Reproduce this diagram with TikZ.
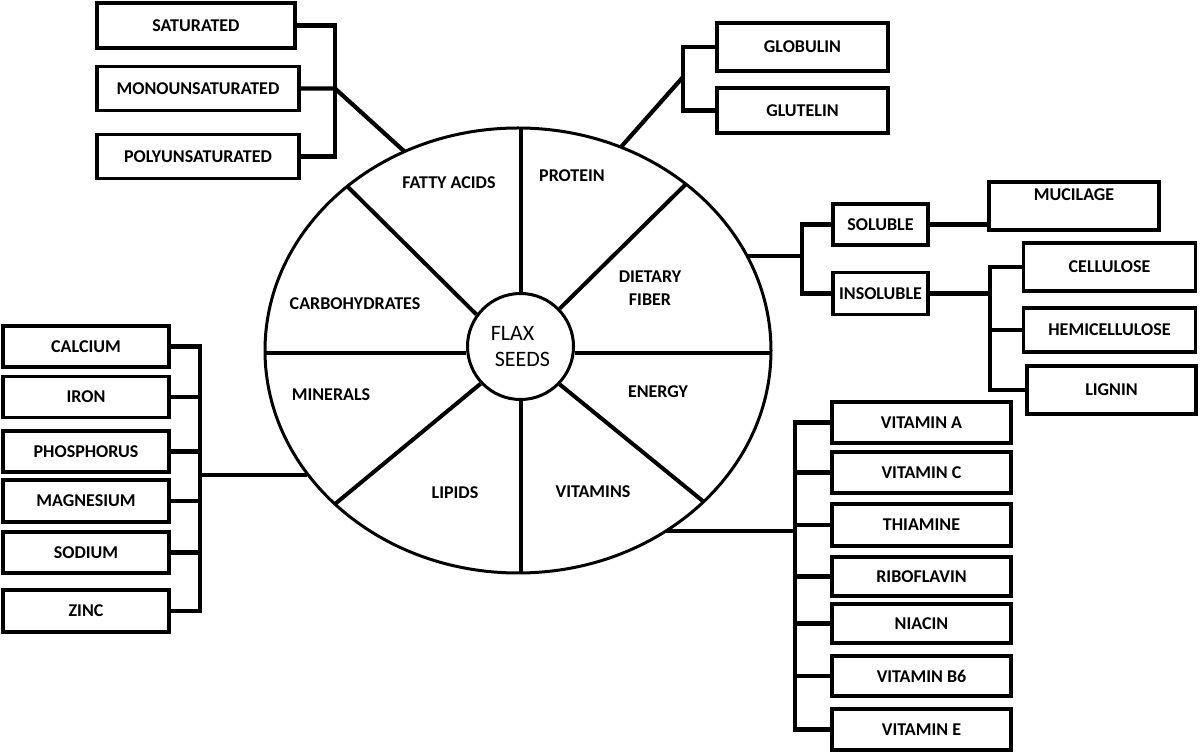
\documentclass[tikz,border=0pt]{standalone}
\usepackage{fontspec}
\setmainfont{Carlito}

\tikzset{
  box/.style={draw, line width=1.9pt, inner sep=2pt, font=\bfseries\fontsize{9}{11.5}\selectfont},
  fabox/.style={box, minimum width=101pt, minimum height=22pt},
  prbox/.style={box, minimum width=85.5pt, minimum height=24pt},
  fibox/.style={box, minimum width=47.5pt, minimum height=21pt},
  fsbox/.style={box, minimum width=86pt, minimum height=24pt},
  mnbox/.style={box, minimum width=83pt, minimum height=20.5pt},
  vtbox/.style={box, minimum width=89.5pt, minimum height=20.5pt},
  link/.style={line width=2.1pt},
  spoke/.style={line width=2pt},
  sector/.style={font=\bfseries\fontsize{9}{11.5}\selectfont, align=center},
}

\begin{document}
\begin{tikzpicture}[x=0.5pt, y=-0.5pt]
\useasboundingbox (0,0) rectangle (1200,753);

\coordinate (C) at (518,350.5);
% points on the rim
\coordinate (T) at (520.5,128);
\coordinate (B) at (520.5,573);
\coordinate (L) at (265,353);
\coordinate (R) at (771,353);
\coordinate (TL) at (348,187);
\coordinate (TR) at (686,184);
\coordinate (BL) at (335,504);
\coordinate (BR) at (704,502);

% where the branches leave the rim
\coordinate (fa) at (405,152);
\coordinate (pr) at (621,147);
\coordinate (df) at (748,256);
\coordinate (mn) at (307,475);
\coordinate (vt) at (666,531);

% junctions
\coordinate (faj) at (335,88.5);
\coordinate (prj) at (683,77);
\coordinate (dfj) at (802,256);
\coordinate (insj) at (990,296);
\coordinate (mnj) at (200,475);
\coordinate (vtj) at (795,531);

% wheel
\draw[line width=1.5pt] (C) ellipse [x radius=126.5pt, y radius=111.25pt];
\node[circle, draw, line width=1.5pt, minimum size=53pt, inner sep=0pt, align=left,
      font=\fontsize{11}{13}\selectfont] (flax) at (520.5,346.5) {FLAX\\\hspace{2pt}SEEDS};

\draw[spoke] (T) -- (flax.north);
\draw[spoke] (B) -- (flax.south);
\draw[spoke] (L) -- (L -| flax.west);
\draw[spoke] (R) -- (R -| flax.east);
\draw[spoke] (TL) -- (flax.144);
\draw[spoke] (TR) -- (flax.44);
\draw[spoke] (BL) -- (flax.223);
\draw[spoke] (BR) -- (flax.316);

\node[sector] (fatty) at (449,183) {FATTY ACIDS};
\node[sector] (prot) at (572,176) {PROTEIN};
\node[sector] (fiber) at (650,288.5) {DIETARY\\FIBER};
\node[sector] (carb) at (355,304) {CARBOHYDRATES};
\node[sector] (energy) at (658,392) {ENERGY};
\node[sector] (mins) at (331,395) {MINERALS};
\node[sector] (lip) at (455,493) {LIPIDS};
\node[sector] (vits) at (593,492) {VITAMINS};

% fatty acids
\node[fabox, minimum width=99pt, minimum height=22.5pt] (sat) at (196,25.5) {SATURATED};
\node[fabox] (mono) at (198,88.5) {MONOUNSATURATED};
\node[fabox] (poly) at (198,156.5) {POLYUNSATURATED};

\draw[link] (sat.east) -- (sat.east -| faj) -- (poly.east -| faj) -- (poly.east);
\draw[link] (mono.east) -- (faj) -- (fa);

% protein
\node[prbox] (glob) at (802.5,47) {GLOBULIN};
\node[prbox, minimum height=22.5pt] (glut) at (802.5,110.5) {GLUTELIN};

\draw[link] (glob.west) -- (glob.west -| prj) -- (glut.west -| prj) -- (glut.west);
\draw[link] (prj) -- (pr);

% dietary fiber
\node[fibox, minimum height=20.5pt] (sol) at (880.5,224.5) {SOLUBLE};
\node[fibox] (insol) at (880.5,293.5) {INSOLUBLE};
\node[fsbox, minimum width=85pt, align=center] (muc) at (1074,206) {MUCILAGE\\\phantom{M}};
\node[fsbox] (cell) at (1109.5,267) {CELLULOSE};
\node[fsbox, minimum height=22pt] (hemi) at (1109.5,330) {HEMICELLULOSE};
\node[fsbox, minimum width=84.5pt] (lig) at (1111.5,390) {LIGNIN};

\draw[link] (df) -- (dfj);
\draw[link] (sol.west) -- (sol.west -| dfj) -- (insol.west -| dfj) -- (insol.west);
\draw[link] (sol.east) -- (sol.east -| muc.west);
\draw[link] (insol.east) -- (insol.east -| insj);
\draw[link] (cell.west) -- (cell.west -| insj) -- (lig.west -| insj) -- (lig.west);
\draw[link] (hemi.west) -- (hemi.west -| insj);

% minerals
\node[mnbox] (calc) at (86,346.5) {CALCIUM};
\node[mnbox] (iron) at (86,397) {IRON};
\node[mnbox] (phos) at (86,451.5) {PHOSPHORUS};
\node[mnbox, minimum height=21pt] (magn) at (86,501) {MAGNESIUM};
\node[mnbox] (sod) at (86,552.5) {SODIUM};
\node[mnbox, minimum height=21pt] (zinc) at (86,611) {ZINC};

\draw[link] (mn) -- (mnj);
\draw[link] (calc.east) -- (calc.east -| mnj) -- (zinc.east -| mnj) -- (zinc.east);
\draw[link] (iron.east) -- (iron.east -| mnj);
\draw[link] (phos.east) -- (phos.east -| mnj);
\draw[link] (magn.east) -- (magn.east -| mnj);
\draw[link] (sod.east) -- (sod.east -| mnj);

% vitamins
\node[vtbox] (vita) at (921.5,422.5) {VITAMIN A};
\node[vtbox] (vitc) at (921.5,472.5) {VITAMIN C};
\node[vtbox, minimum height=21pt] (thia) at (921.5,525) {THIAMINE};
\node[vtbox, minimum height=19.5pt] (ribo) at (921.5,576.5) {RIBOFLAVIN};
\node[vtbox, minimum height=19.5pt] (niac) at (921.5,623.5) {NIACIN};
\node[vtbox, minimum height=20pt] (vitb) at (921.5,676) {VITAMIN B6};
\node[vtbox] (vite) at (921.5,729.5) {VITAMIN E};

\draw[link] (vt) -- (vtj);
\draw[link] (vita.west) -- (vita.west -| vtj) -- (vite.west -| vtj) -- (vite.west);
\draw[link] (vitc.west) -- (vitc.west -| vtj);
\draw[link] (thia.west) -- (thia.west -| vtj);
\draw[link] (ribo.west) -- (ribo.west -| vtj);
\draw[link] (niac.west) -- (niac.west -| vtj);
\draw[link] (vitb.west) -- (vitb.west -| vtj);
\end{tikzpicture}
\end{document}
